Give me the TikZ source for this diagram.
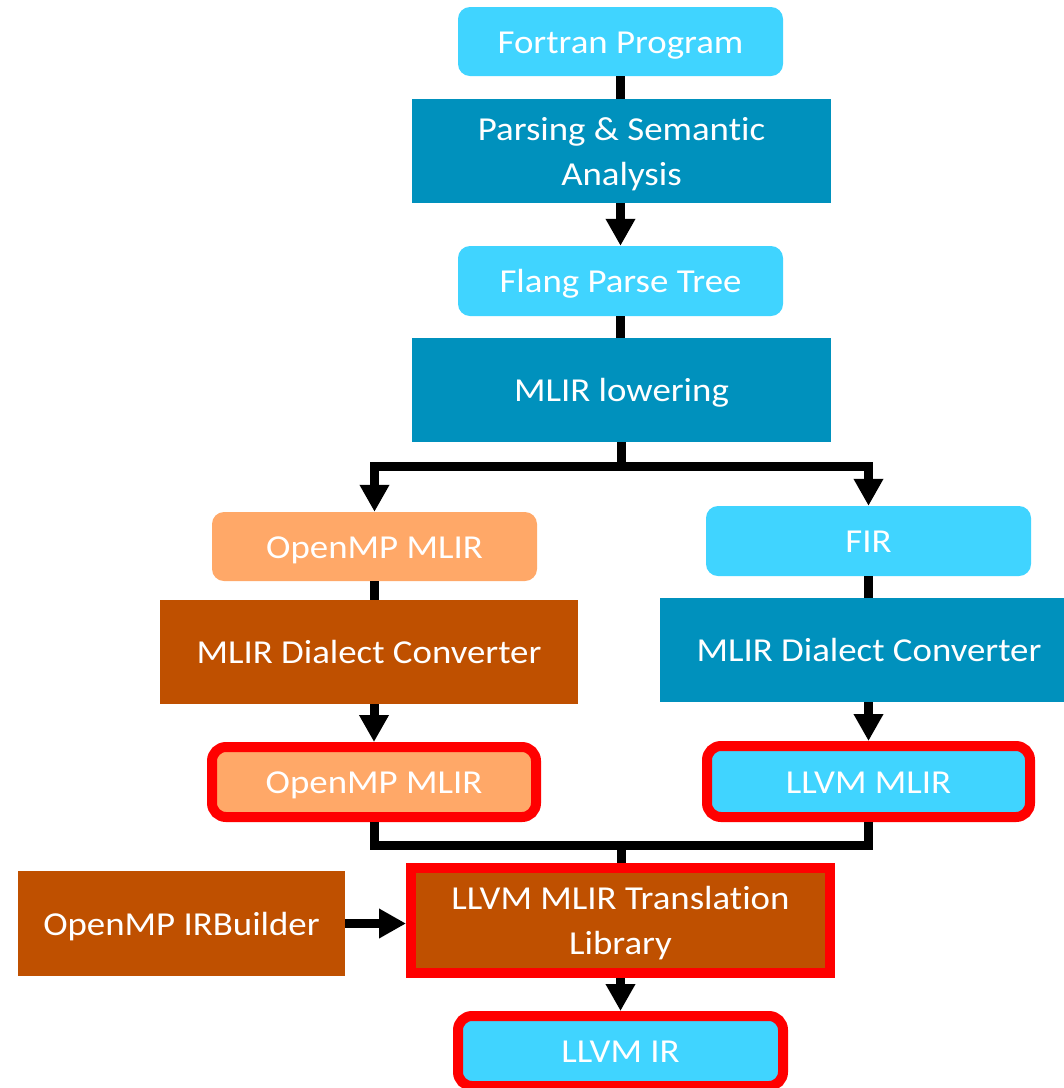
\documentclass[tikz,border=0pt]{standalone}
\usepackage{fontspec}
\setmainfont{Carlito}[FakeStretch=1.1, Ligatures=NoCommon]
\usetikzlibrary{arrows.meta}
\definecolor{lcyan}{HTML}{40D4FF}
\definecolor{dblue}{HTML}{0091BD}
\definecolor{dorange}{HTML}{BF5000}
\definecolor{lorange}{HTML}{FFA868}
\definecolor{hred}{HTML}{FF0000}
\tikzset{
  box/.style={inner sep=0pt, align=center, text=white, font=\fontsize{33.5}{45}\selectfont, text height=30pt, text depth=7pt},
  twoline/.style={text height=75pt, text depth=7pt},
  roundbox/.style={box, rounded corners=12pt},
  hibox/.style={box, draw=hred, line width=10pt},
  conn/.style={line width=9pt, black},
  arr/.style={conn, -{Triangle[width=28pt,length=27pt]}},
}
\begin{document}
\begin{tikzpicture}[x=1pt,y=-1pt]
\clip (0,0) rectangle (1064,1088);
\fill[white] (0,0) rectangle (1064,1088);
% nodes
\node[roundbox, fill=lcyan, minimum width=325pt, minimum height=69pt] (fortran) at (620.5,41.5) {Fortran Program};
\node[box, twoline, fill=dblue, minimum width=419pt, minimum height=104pt] (parse) at (621.5,151) {Parsing \& Semantic\\Analysis};
\node[roundbox, fill=lcyan, minimum width=325pt, minimum height=70pt] (flang) at (620.5,281) {Flang Parse Tree};
\node[box, fill=dblue, minimum width=419pt, minimum height=104pt] (lower) at (621.5,390) {MLIR lowering};
\node[roundbox, fill=lorange, minimum width=325pt, minimum height=69pt] (omp1) at (374.5,546.5) {OpenMP MLIR};
\node[roundbox, fill=lcyan, minimum width=325pt, minimum height=70pt] (fir) at (868.5,541) {FIR};
\node[box, fill=dorange, minimum width=418pt, minimum height=104pt] (conv1) at (369,652) {MLIR Dialect Converter};
\node[box, fill=dblue, minimum width=418pt, minimum height=104pt] (conv2) at (869,650) {MLIR Dialect Converter};
\node[hibox, rounded corners=14pt, fill=lorange, minimum width=324pt, minimum height=70pt] (omp2) at (374,782) {OpenMP MLIR};
\node[hibox, rounded corners=14pt, fill=lcyan, minimum width=323pt, minimum height=71pt] (llvmmlir) at (868.5,781.5) {LLVM MLIR};
\node[hibox, twoline, fill=dorange, minimum width=419pt, minimum height=105pt] (trans) at (620.5,920.5) {LLVM MLIR Translation\\Library};
\node[box, fill=dorange, minimum width=327pt, minimum height=105pt] (irb) at (181.5,923.5) {OpenMP IRBuilder};
\node[hibox, rounded corners=14pt, fill=lcyan, minimum width=325pt, minimum height=70pt] (llvmir) at (620.5,1051) {LLVM IR};
% connectors
\coordinate (split) at (621.5,466);
\coordinate (merge) at (621.5,845);
\draw[conn] (fortran.south) -- (fortran.south |- parse.north);
\draw[arr] (parse.south -| flang.north) -- (flang.north);
\draw[conn] (flang.south) -- (flang.south |- lower.north);
\draw[conn] (lower.south -| split) -- (split);
\draw[arr] (split) -| (omp1.north);
\draw[arr] (split) -| (fir.north);
\draw[conn] (omp1.south) -- (omp1.south |- conv1.north);
\draw[arr] (omp2.north |- conv1.south) -- (omp2.north);
\draw[conn] (fir.south) -- (fir.south |- conv2.north);
\draw[arr] (llvmmlir.north |- conv2.south) -- (llvmmlir.north);
\draw[conn] (omp2.south) |- (merge) -| (llvmmlir.south);
\draw[conn] (merge) -- (merge |- trans.north);
\draw[arr] (irb.east) -- (irb.east -| trans.west);
\draw[arr] (trans.south) -- (llvmir.north);
\end{tikzpicture}
\end{document}
